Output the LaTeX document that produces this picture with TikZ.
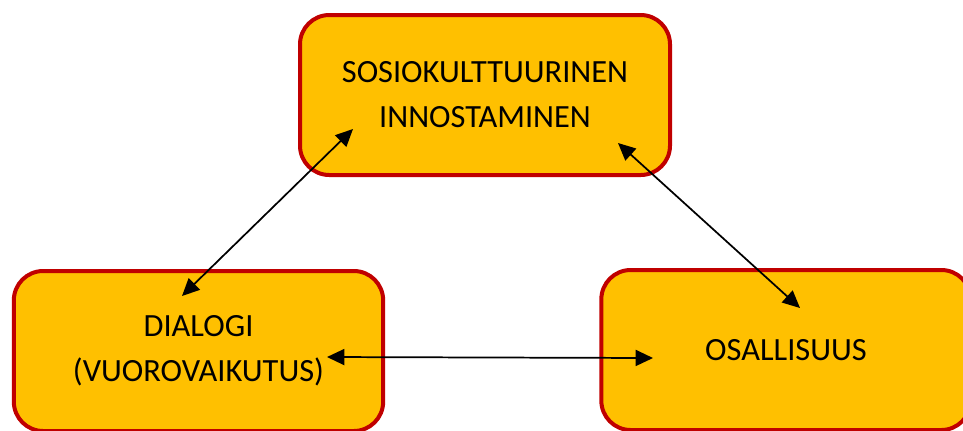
\documentclass[tikz,border=0pt]{standalone}
\usepackage{fontspec}
\setmainfont{Carlito}
\usetikzlibrary{arrows.meta}
\definecolor{boxfill}{HTML}{FFC000}
\definecolor{boxline}{HTML}{C00000}
\begin{document}
\begin{tikzpicture}[x=0.75pt,y=-0.75pt,
  box/.style={draw=boxline,fill=boxfill,line width=3pt,rounded corners=22pt,
    inner sep=0pt,align=center,font=\fontsize{24.3}{33.75}\selectfont},
  link/.style={line width=1.3pt,{Triangle[length=13pt,width=12pt]}-{Triangle[length=13pt,width=12pt]}}]
\useasboundingbox (0,0) rectangle (963,430);
\node[box,minimum width=277.5pt,minimum height=120pt] (top) at (485,95) {SOSIOKULTTUURINEN\\INNOSTAMINEN};
\node[box,minimum width=277pt,minimum height=120pt] (left) at (198.5,351) {DIALOGI\\(VUOROVAIKUTUS)};
\node[box,minimum width=277pt,minimum height=120pt] (right) at (786,350) {OSALLISUUS};
\coordinate (t1) at (353,129);
\coordinate (l1) at (182,296);
\coordinate (t2) at (618,143);
\coordinate (r1) at (800,308);
\coordinate (l2) at (327,357);
\coordinate (r2) at (653,358);
\draw[link] (l1) -- (t1);
\draw[link] (t2) -- (r1);
\draw[link] (l2) -- (r2);
\end{tikzpicture}
\end{document}
